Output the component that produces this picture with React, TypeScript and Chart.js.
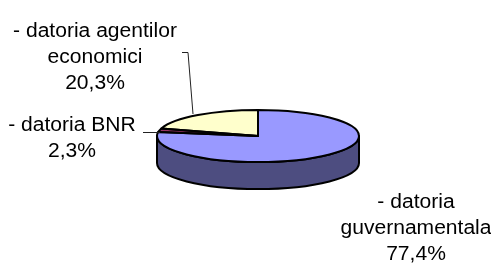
import React, { useEffect, useRef } from "react";
import { Chart, registerables } from "chart.js";

Chart.register(...registerables);

// ---- data ----
const categories = ["datoria guvernamentala", "datoria BNR", "datoria agentilor economici"];
const shares = [77.4, 2.3, 20.3];
const labelLines = [["- datoria", "guvernamentala"], ["- datoria BNR"], ["- datoria agentilor", "economici"]];
const topColors = ["#9999FF", "#993366", "#FFFFCC"];
const sideColors = ["#4D4D80", "#4D1A33", "#80805F"];

// ---- layout (positions only) ----
const TILT = 0.258; // ry / rx
const DEPTH = 27;
const labelAnchors = [
  { x: 416, y: 208 },
  { x: 72, y: 131 },
  { x: 95, y: 37 },
];
const LINE_H = 26;
const TEXT_SCALE_X = 1.08;

const pct = (v: number) => v.toFixed(1).replace(".", ",") + "%";

const pie3d = {
  id: "pie3d",
  beforeDatasetsDraw(chart: any) {
    const ctx = chart.ctx;
    const meta = chart.getDatasetMeta(0);
    const arcs = meta.data;
    if (!arcs.length) return;
    const cx = arcs[0].x, cy = arcs[0].y, r = arcs[0].outerRadius;
    const ry = r * TILT;
    const ranges = [[0, Math.PI], [2 * Math.PI, 3 * Math.PI]];
    arcs.forEach((a: any, i: number) => {
      ranges.forEach(([lo, hi]) => {
        const s = Math.max(a.startAngle, lo);
        const e = Math.min(a.endAngle, hi);
        if (e <= s) return;
        ctx.save();
        ctx.beginPath();
        ctx.ellipse(cx, cy, r, ry, 0, s, e, false);
        ctx.ellipse(cx, cy + DEPTH, r, ry, 0, e, s, true);
        ctx.closePath();
        ctx.fillStyle = sideColors[i];
        ctx.fill();
        ctx.lineWidth = 2;
        ctx.strokeStyle = "#000";
        ctx.lineJoin = "round";
        ctx.stroke();
        ctx.restore();
      });
    });
    ctx.save();
    ctx.translate(cx, cy);
    ctx.scale(1, TILT);
    ctx.translate(-cx, -cy);
  },
  afterDatasetsDraw(chart: any) {
    const ctx = chart.ctx;
    ctx.restore();
    const meta = chart.getDatasetMeta(0);
    const arcs = meta.data;
    if (!arcs.length) return;
    const cx = arcs[0].x, cy = arcs[0].y, r = arcs[0].outerRadius;
    const ry = r * TILT;
    ctx.save();
    ctx.lineWidth = 2;
    ctx.strokeStyle = "#000";
    ctx.lineJoin = "round";
    arcs.forEach((a: any) => {
      ctx.beginPath();
      ctx.moveTo(cx, cy);
      ctx.ellipse(cx, cy, r, ry, 0, a.startAngle, a.endAngle, false);
      ctx.closePath();
      ctx.stroke();
    });
    ctx.restore();
  },
  afterDraw(chart: any) {
    const ctx = chart.ctx;
    ctx.save();
    ctx.fillStyle = "#000";
    ctx.font = '19.5px "Liberation Sans", Arial, sans-serif';
    ctx.textAlign = "center";
    ctx.textBaseline = "alphabetic";
    categories.forEach((_, i) => {
      const lines = [...labelLines[i], pct(shares[i])];
      const anc = labelAnchors[i];
      lines.forEach((ln, j) => {
        ctx.save();
        ctx.translate(anc.x, anc.y + j * LINE_H);
        ctx.scale(TEXT_SCALE_X, 1);
        ctx.fillText(ln, 0, 0);
        ctx.restore();
      });
    });
    ctx.strokeStyle = "#222";
    ctx.lineWidth = 1;
    ctx.beginPath();
    ctx.moveTo(182, 52.5);
    ctx.lineTo(188, 52.5);
    ctx.lineTo(193, 114);
    ctx.stroke();
    ctx.beginPath();
    ctx.moveTo(143, 132.5);
    ctx.lineTo(160, 132.5);
    ctx.stroke();
    ctx.restore();
  },
};

export default function App() {
  const ref = useRef<HTMLCanvasElement>(null);
  useEffect(() => {
    document.body.style.margin = "0";
    if (!ref.current) return;
    const chart = new Chart(ref.current, {
      type: "pie",
      data: {
        labels: categories,
        datasets: [
          {
            data: shares,
            backgroundColor: topColors,
            borderWidth: 0,
          },
        ],
      },
      options: {
        responsive: false,
        animation: false,
        events: [],
        layout: { padding: { left: 157, right: 132, top: 35, bottom: 27 } },
        plugins: { legend: { display: false }, tooltip: { enabled: false } },
      },
      plugins: [pie3d],
    });
    return () => chart.destroy();
  }, []);
  return (
    <div style={{ width: 491, height: 264, background: "#fff" }}>
      <canvas ref={ref} width={491} height={264} style={{ display: "block", width: 491, height: 264 }} />
    </div>
  );
}
